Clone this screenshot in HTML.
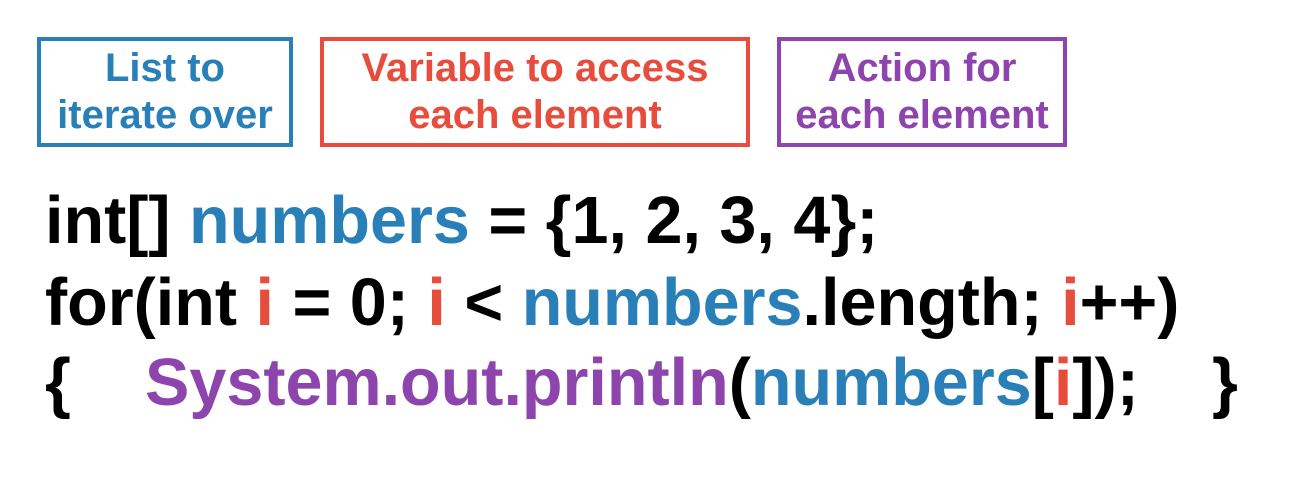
<!DOCTYPE html>
<html><head><meta charset="utf-8"><style>
html,body{margin:0;padding:0;background:#fff;}
body{width:1300px;height:480px;position:relative;overflow:hidden;font-family:"Liberation Sans",Arial,sans-serif;font-weight:bold;}
.box{position:absolute;top:37px;height:102px;border:4px solid;display:flex;align-items:center;justify-content:center;text-align:center;font-size:40px;line-height:47px;box-sizing:content-box;white-space:nowrap;}
.b{color:#2980b9;border-color:#2980b9;}
.r{color:#e74c3c;border-color:#e74c3c;}
.p{color:#8e44ad;border-color:#8e44ad;}
.line{position:absolute;left:45px;font-size:66.5px;line-height:66px;white-space:pre;color:#000;}
.cb{color:#2980b9}.cr{color:#e74c3c}.cp{color:#8e44ad}
</style></head><body>
<div class="box b" style="left:37px;width:248px;">List to<br>iterate over</div>
<div class="box r" style="left:320px;width:422px;">Variable to access<br>each element</div>
<div class="box p" style="left:777px;width:282px;">Action for<br>each element</div>
<div class="line" style="top:188px;">int[] <span class="cb">numbers</span> = {1, 2, 3, 4};</div>
<div class="line" style="top:270px;">for(int <span class="cr">i</span> = 0; <span class="cr">i</span> &lt; <span class="cb">numbers</span>.length; <span class="cr">i</span>++)</div>
<div class="line" style="top:350px;">{</div>
<div class="line" style="top:350px;left:145px;"><span class="cp">System.out.println</span>(<span class="cb">numbers</span>[<span class="cr">i</span>]);</div>
<div class="line" style="top:350px;left:1212px;">}</div>
</body></html>
